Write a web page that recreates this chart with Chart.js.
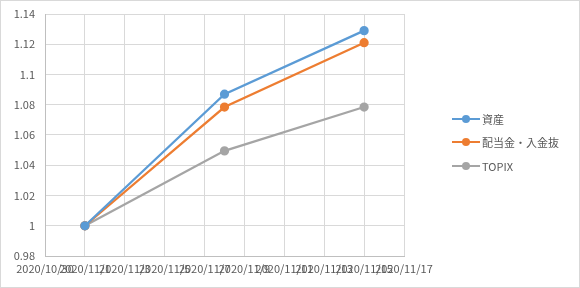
<!DOCTYPE html>
<html lang="ja">
<head>
    <meta charset="UTF-8">
    <title>資産推移</title>
    <script src="https://cdn.jsdelivr.net/npm/chart.js"></script>
    <style>
        body {
            margin: 0;
            background: #ffffff;
            font-family: "Noto Sans CJK JP", sans-serif;
        }
        .chart-box {
            position: relative;
            width: 578px;
            height: 286px;
            border: 1px solid #d9d9d9;
        }
        .legend {
            position: absolute;
            left: 451px;
            top: 106px;
            font-size: 11px;
            color: #595959;
        }
        .legend-item {
            height: 23.5px;
            display: flex;
            align-items: center;
        }
        .marker {
            position: relative;
            width: 28px;
            height: 2px;
            margin-right: 2px;
        }
        .marker span {
            position: absolute;
            left: 10px;
            top: -3px;
            width: 8px;
            height: 8px;
            border-radius: 50%;
        }
    </style>
</head>
<body>
    <div class="chart-box">
        <canvas id="lineChart" width="578" height="286"></canvas>
        <div class="legend" id="legend"></div>
    </div>

    <script>
        // data
        const dates = ['2020/11/1', '2020/11/8', '2020/11/15'];
        const seriesNames = ['資産', '配当金・入金抜', 'TOPIX'];
        const assets = [1, 1.087, 1.129];
        const exDividend = [1, 1.0785, 1.121];
        const topix = [1, 1.0495, 1.0785];
        const colors = ['#5b9bd5', '#ed7d31', '#a5a5a5'];

        // x axis runs 2020/10/30 .. 2020/11/17, a label every 2 days
        const startDate = '2020/10/30';
        const endDate = '2020/11/17';
        const DAY = 86400000;

        function toDays(s) {
            const p = s.split('/').map(Number);
            return (Date.UTC(p[0], p[1] - 1, p[2]) - Date.UTC(2020, 9, 30)) / DAY;
        }
        function fromDays(d) {
            const t = new Date(Date.UTC(2020, 9, 30) + d * DAY);
            return t.getUTCFullYear() + '/' + (t.getUTCMonth() + 1) + '/' + t.getUTCDate();
        }

        const allSeries = [assets, exDividend, topix];
        const datasets = allSeries.map(function(vals, i) {
            return {
                label: seriesNames[i],
                data: vals.map(function(v, j) { return { x: toDays(dates[j]), y: v }; }),
                borderColor: colors[i],
                backgroundColor: colors[i],
                borderWidth: 2.25,
                pointRadius: 3.5,
                pointHoverRadius: 3.5,
                tension: 0
            };
        });

        const tickFont = { family: '"Noto Sans CJK JP", sans-serif', size: 11 };

        new Chart(document.getElementById('lineChart').getContext('2d'), {
            type: 'line',
            data: { datasets: datasets },
            options: {
                responsive: false,
                animation: false,
                layout: { padding: { top: 13, right: 175, left: 0, bottom: 0 } },
                plugins: {
                    legend: { display: false },
                    tooltip: { enabled: false }
                },
                scales: {
                    x: {
                        type: 'linear',
                        min: toDays(startDate),
                        max: toDays(endDate),
                        afterFit: function(scale) { scale.height = 31; },
                        ticks: {
                            stepSize: 2,
                            autoSkip: false,
                            maxRotation: 0,
                            color: '#595959',
                            font: tickFont,
                            padding: 6,
                            callback: function(v) { return fromDays(v); }
                        },
                        grid: { color: '#d9d9d9', drawTicks: false },
                        border: { color: '#bfbfbf' }
                    },
                    y: {
                        min: 0.98,
                        max: 1.14,
                        afterFit: function(scale) {
                            scale.width = 44;
                            scale.paddingTop = 0;
                            scale.paddingBottom = 0;
                        },
                        ticks: {
                            stepSize: 0.02,
                            color: '#595959',
                            font: tickFont,
                            padding: 10,
                            callback: function(v) { return Math.round(v * 100) / 100; }
                        },
                        grid: { color: '#d9d9d9', drawTicks: false },
                        border: { color: '#bfbfbf' }
                    }
                }
            }
        });

        // legend: line with a dot, like the original
        const legend = document.getElementById('legend');
        seriesNames.forEach(function(name, i) {
            const item = document.createElement('div');
            item.className = 'legend-item';
            item.innerHTML = '<div class="marker" style="background:' + colors[i] +
                '"><span style="background:' + colors[i] + '"></span></div>' + name;
            legend.appendChild(item);
        });
    </script>
</body>
</html>
